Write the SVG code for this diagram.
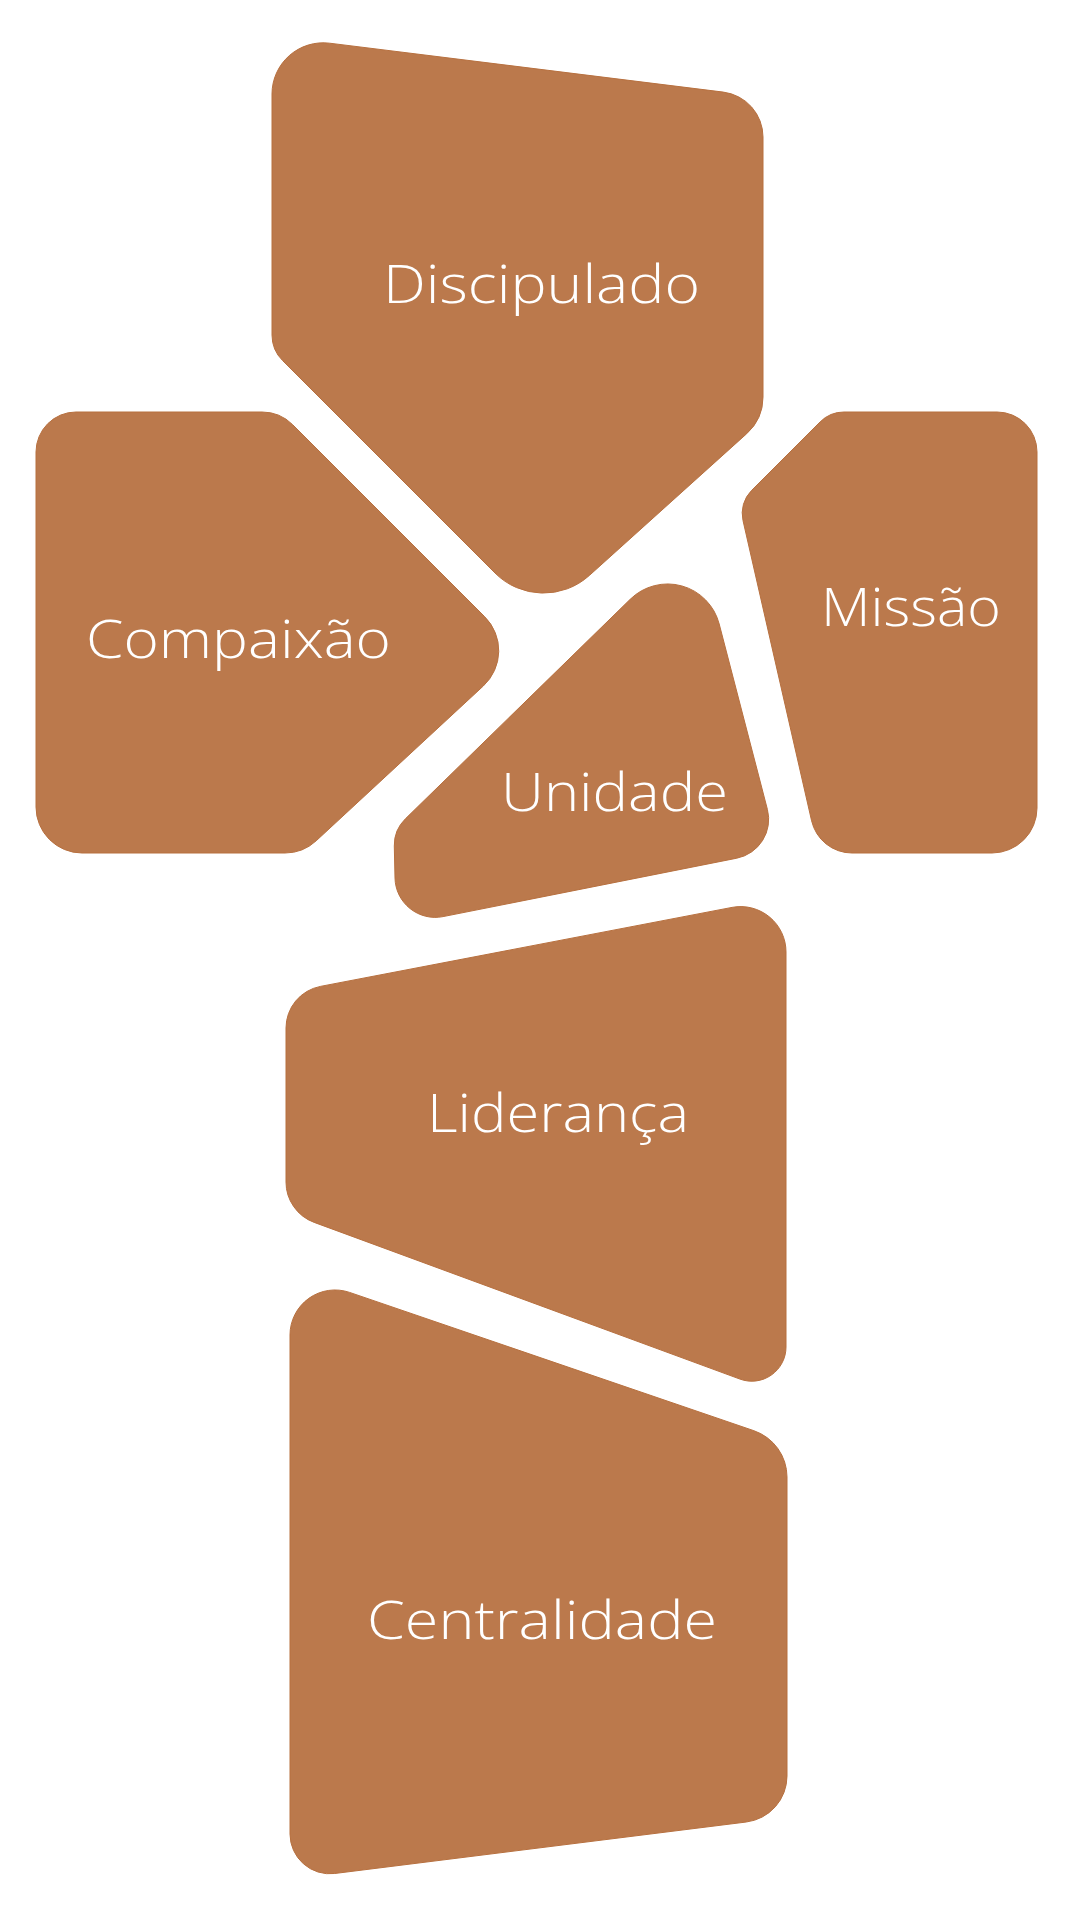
<svg xmlns="http://www.w3.org/2000/svg" width="1080" height="1920" viewBox="0 0 1080 1920">
<style>
.shape{fill:#BB794C;stroke:#B7703F;stroke-width:1}
.lbl{fill:#FFFFFF;font-family:"Open Sans","Noto Sans","DejaVu Sans",sans-serif;font-size:54px;font-weight:300}
</style>
<rect x="0" y="0" width="1080" height="1920" fill="#FFFFFF"/>
<g id="connectors"></g>
<g id="discipulado">
<path class="shape" d="M 329.6,43.2 L 723.3,92.1 A 45.3 45.3 0 0 1 763,137 L 763,397 A 49.4 49.4 0 0 1 746.7,433.7 L 589.3,575.5 A 68.5 68.5 0 0 1 495,573 L 282.6,360.6 A 36.2 36.2 0 0 1 272,335 L 272,94 A 51.2 51.2 0 0 1 329.6,43.2 Z"/>
<text class="lbl" x="383" y="303" textLength="317" lengthAdjust="spacingAndGlyphs">Discipulado</text>
</g>
<g id="compaixao">
<path class="shape" d="M 76,412 L 262,412 A 43.5 43.5 0 0 1 292.7,424.7 L 484.6,616.6 A 48.1 48.1 0 0 1 483.3,686 L 316.2,840.8 A 45.9 45.9 0 0 1 285,853 L 82,853 A 46 46 0 0 1 36,807 L 36,452 A 40 40 0 0 1 76,412 Z"/>
<text class="lbl" x="86" y="658" textLength="305" lengthAdjust="spacingAndGlyphs">Compaixão</text>
</g>
<g id="missao">
<path class="shape" d="M 844,412 L 997,412 A 40 40 0 0 1 1037,452 L 1037,808 A 45 45 0 0 1 992,853 L 852,853 A 41.4 41.4 0 0 1 811.6,820.8 L 743,520.5 A 32.5 32.5 0 0 1 751.7,490.3 L 820.1,421.9 A 33.8 33.8 0 0 1 844,412 Z"/>
<text class="lbl" x="821" y="626" textLength="180" lengthAdjust="spacingAndGlyphs">Missão</text>
</g>
<g id="unidade">
<path class="shape" d="M 405.4,818.8 L 630.2,599.3 A 53.3 53.3 0 0 1 719.2,624 L 767.4,809.4 A 39.6 39.6 0 0 1 736.8,858.2 L 443.1,916.6 A 40.2 40.2 0 0 1 395,878 L 394.3,846 A 36.9 36.9 0 0 1 405.4,818.8 Z"/>
<text class="lbl" x="501" y="811" textLength="227" lengthAdjust="spacingAndGlyphs">Unidade</text>
</g>
<g id="lideranca">
<path class="shape" d="M 320.4,986.4 L 732,907.4 A 45.4 45.4 0 0 1 786,952 L 786,1347 A 34.2 34.2 0 0 1 740,1379.1 L 314.2,1222.4 A 43 43 0 0 1 286,1182 L 286,1028 A 42.3 42.3 0 0 1 320.4,986.4 Z"/>
<text class="lbl" x="427" y="1132" textLength="262" lengthAdjust="spacingAndGlyphs">Liderança</text>
</g>
<g id="centralidade">
<path class="shape" d="M 349.6,1292.4 L 753.9,1430.7 A 49 49 0 0 1 787,1477 L 787,1776 A 46.3 46.3 0 0 1 746.3,1822 L 334.7,1873.5 A 39.8 39.8 0 0 1 290,1834 L 290,1335 A 45 45 0 0 1 349.6,1292.4 Z"/>
<text class="lbl" x="367" y="1639" textLength="350" lengthAdjust="spacingAndGlyphs">Centralidade</text>
</g>
</svg>
